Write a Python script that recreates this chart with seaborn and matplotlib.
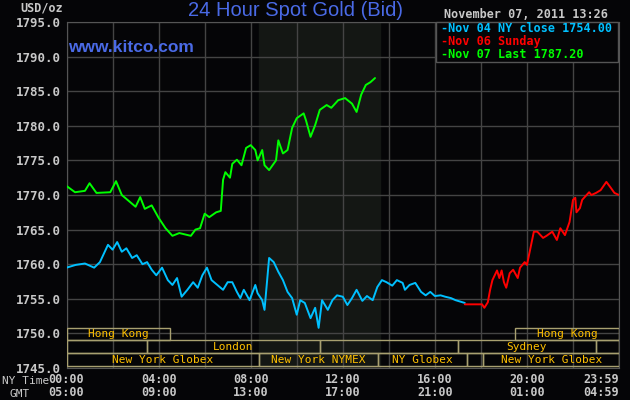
import matplotlib
matplotlib.use("Agg")
import matplotlib.pyplot as plt
import seaborn as sns
import pandas as pd
from matplotlib.patches import Rectangle

# ---- data (hours since 00:00 NY time, USD/oz) ----
nov04_hours = [0, 0.4, 0.8, 1.2, 1.45, 1.8, 2.0, 2.2, 2.4, 2.6, 2.85, 3.05, 3.3, 3.5, 3.7, 3.9,
               4.15, 4.4, 4.6, 4.8, 5.0, 5.25, 5.5, 5.7, 5.9, 6.1, 6.3, 6.55, 6.8, 7.0, 7.2, 7.4,
               7.55, 7.7, 7.95, 8.2, 8.3, 8.5, 8.6, 8.8, 9.0, 9.2, 9.4, 9.6, 9.8, 10.0, 10.15,
               10.35, 10.6, 10.8, 10.95, 11.1, 11.35, 11.55, 11.75, 12.0, 12.2, 12.4, 12.6, 12.85,
               13.05, 13.3, 13.5, 13.7, 13.9, 14.15, 14.35, 14.6, 14.7, 14.9, 15.15, 15.4, 15.6,
               15.8, 16.0, 16.25, 16.45, 16.7, 16.9, 17.3]
nov04_price = [1759.5, 1759.9, 1760.1, 1759.5, 1760.3, 1762.8, 1762.1, 1763.2, 1761.8, 1762.3,
               1760.9, 1761.3, 1760.0, 1760.3, 1759.2, 1758.4, 1759.5, 1757.7, 1757.0, 1758.0,
               1755.3, 1756.3, 1757.4, 1756.6, 1758.4, 1759.5, 1757.7, 1757.0, 1756.3, 1757.4,
               1757.4, 1756.0, 1755.1, 1756.3, 1754.8, 1757.0, 1755.8, 1754.8, 1753.4, 1760.9,
               1760.3, 1758.9, 1757.7, 1756.0, 1755.1, 1752.7, 1754.8, 1754.4, 1752.2, 1753.7,
               1750.8, 1754.8, 1753.4, 1754.8, 1755.5, 1755.3, 1754.1, 1755.1, 1756.3, 1754.7,
               1755.4, 1754.8, 1756.7, 1757.7, 1757.4, 1756.9, 1757.7, 1757.3, 1756.3, 1757.0,
               1757.3, 1756.0, 1755.5, 1756.0, 1755.4, 1755.5, 1755.3, 1755.1, 1754.8, 1754.4]

nov06_hours = [17.3, 18.05, 18.15, 18.3, 18.4, 18.5, 18.6, 18.7, 18.8, 18.9, 19.0, 19.1, 19.25,
               19.4, 19.6, 19.7, 19.9, 20.0, 20.15, 20.3, 20.45, 20.7, 20.85, 21.1, 21.3, 21.45,
               21.65, 21.85, 22.0, 22.1, 22.15, 22.3, 22.4, 22.7, 22.8, 23.0, 23.2, 23.45, 23.65,
               23.8, 24.0]
nov06_price = [1754.2, 1754.2, 1753.7, 1754.5, 1756.3, 1757.7, 1758.4, 1759.1, 1758.0, 1759.1,
               1757.4, 1756.6, 1758.7, 1759.2, 1758.0, 1759.5, 1760.3, 1759.9, 1762.3, 1764.7,
               1764.7, 1763.8, 1764.1, 1764.7, 1763.5, 1765.2, 1764.2, 1766.1, 1769.3, 1769.6,
               1767.5, 1768.1, 1769.3, 1770.4, 1770.0, 1770.3, 1770.7, 1771.9, 1771.0, 1770.3,
               1770.0]

nov07_hours = [0, 0.37, 0.8, 1.0, 1.3, 1.9, 2.15, 2.4, 3.0, 3.2, 3.4, 3.7, 4.0, 4.3, 4.6, 4.9,
               5.4, 5.6, 5.8, 6.0, 6.2, 6.5, 6.7, 6.8, 6.9, 7.1, 7.2, 7.4, 7.6, 7.8, 8.0, 8.2,
               8.3, 8.5, 8.6, 8.8, 9.1, 9.2, 9.4, 9.6, 9.8, 10.0, 10.3, 10.4, 10.6, 10.8, 11.0,
               11.3, 11.5, 11.8, 12.1, 12.4, 12.6, 12.8, 13.0, 13.2, 13.4]
nov07_price = [1771.3, 1770.4, 1770.6, 1771.7, 1770.3, 1770.4, 1772.0, 1770.0, 1768.3, 1769.7,
               1768.0, 1768.5, 1766.7, 1765.2, 1764.1, 1764.5, 1764.1, 1765.0, 1765.2, 1767.3,
               1766.8, 1767.5, 1767.7, 1772.2, 1773.3, 1772.5, 1774.5, 1775.1, 1774.3, 1776.8,
               1777.2, 1776.5, 1775.0, 1776.5, 1774.3, 1773.6, 1775.0, 1777.9, 1776.0, 1776.5,
               1779.7, 1781.1, 1781.8, 1780.8, 1778.4, 1780.1, 1782.3, 1783.0, 1782.6, 1783.7,
               1784.0, 1783.2, 1782.0, 1784.5, 1785.9, 1786.3, 1786.9]

legend_labels = ["Nov 04 NY close 1754.00", "Nov 06 Sunday", "Nov 07 Last 1787.20"]
series_colors = ["#00c0ff", "#ff0000", "#00ff00"]

# market sessions: (row, start hour, end hour, label)
sessions = [
    (0, 0, 4.5, "Hong Kong"), (0, 19.5, 24, "Hong Kong"),
    (1, 0, 3.5, ""), (1, 3.5, 11.0, "London"), (1, 11.0, 17.0, ""),
    (1, 17.0, 23.0, "Sydney"), (1, 23.0, 24, ""),
    (2, 0, 8.35, "New York Globex"), (2, 8.35, 13.55, "New York NYMEX"),
    (2, 13.55, 17.4, "NY Globex"), (2, 17.4, 18.1, ""), (2, 18.1, 24, "New York Globex"),
]
tick_hours = [0, 4, 8, 12, 16, 20, 23.98]
ny_labels = ["00:00", "04:00", "08:00", "12:00", "16:00", "20:00", "23:59"]
gmt_labels = ["05:00", "09:00", "13:00", "17:00", "21:00", "01:00", "04:59"]

bg = "#050507"
mono = "DejaVu Sans Mono"
tick_col = "#c8c8c8"

sns.set_style("dark")
fig = plt.figure(figsize=(6.3, 4.0), dpi=100, facecolor=bg)
ax = fig.add_axes([0.1056, 0.08, 0.877, 0.865], facecolor=bg)

ax.axvspan(8.35, 13.6, color="#141714", zorder=0)

frames = [
    pd.DataFrame({"h": nov04_hours, "p": nov04_price}),
    pd.DataFrame({"h": nov06_hours, "p": nov06_price}),
    pd.DataFrame({"h": nov07_hours, "p": nov07_price}),
]
for df, c in zip(frames, series_colors):
    sns.lineplot(data=df, x="h", y="p", ax=ax, color=c, linewidth=1.4, zorder=3)

ax.set_xlim(0, 24)
ax.set_ylim(1745, 1795)
ax.set_xticks(range(0, 25, 2))
ax.set_yticks(range(1745, 1796, 5))
ax.grid(True, color="#444444", linewidth=1.0, zorder=1)
ax.set_axisbelow(True)
for s in ax.spines.values():
    s.set_color("#555555")
ax.set_xticklabels([])
ax.set_yticklabels([f"{v:.1f}" for v in range(1745, 1796, 5)], family=mono,
                   fontweight="bold", color=tick_col, fontsize=9)
ax.tick_params(length=0, pad=4)
ax.set_xlabel("")
ax.set_ylabel("")

# session boxes
row_bounds = [(1749.0, 1750.8), (1747.2, 1749.0), (1745.3, 1747.1)]
for row, h0, h1, lab in sessions:
    y0, y1 = row_bounds[row]
    ax.add_patch(Rectangle((h0, y0), h1 - h0, y1 - y0, fill=False, edgecolor="#a8a070",
                           linewidth=1.0, zorder=4))
    if lab:
        ax.text((h0 + h1) / 2, (y0 + y1) / 2, lab, ha="center", va="center",
                family=mono, fontsize=8, color="#ffc000", zorder=5)

# x labels (NY / GMT)
for h, a, b in zip(tick_hours, ny_labels, gmt_labels):
    ha = "right" if h > 23 else "center"
    xx = 24 if h > 23 else h
    ax.text(xx, 1743.3, a, ha=ha, va="center", family=mono, fontweight="bold",
            fontsize=8.5, color=tick_col)
    ax.text(xx, 1741.5, b, ha=ha, va="center", family=mono, fontweight="bold",
            fontsize=8.5, color=tick_col)
fig.text(2 / 630, 1 - 381 / 400, "NY Time", family=mono, fontsize=8, color=tick_col, va="center")
fig.text(10 / 630, 1 - 394 / 400, "GMT", family=mono, fontsize=8, color=tick_col, va="center")

# titles
fig.text(20 / 630, 1 - 8 / 400, "USD/oz", family=mono, fontweight="bold", fontsize=8.5,
         color=tick_col, va="center")
fig.text(296 / 630, 1 - 11 / 400, "24 Hour Spot Gold (Bid)", fontsize=14.5, color="#4a6ae6",
         ha="center", va="center", family="Liberation Sans")
fig.text(68 / 630, 1 - 48 / 400, "www.kitco.com", fontsize=12.5, fontweight="bold",
         color="#4a6ae6", va="center", family="Liberation Sans")
fig.text(608 / 630, 1 - 15 / 400, "November 07, 2011 13:26", family=mono, fontweight="bold",
         fontsize=8.5, color=tick_col, ha="right", va="center")

# legend box
fig.patches.append(Rectangle((436 / 630, 1 - 62 / 400), 182 / 630, 40 / 400, fill=True,
                             facecolor=bg, edgecolor="#555555", linewidth=1.0,
                             transform=fig.transFigure, zorder=6, figure=fig))
for i, (lab, c) in enumerate(zip(legend_labels, series_colors)):
    fig.text(441 / 630, 1 - (29 + i * 13) / 400, "-" + lab, family=mono, fontweight="bold",
             fontsize=8.5, color=c, va="center", zorder=7)

fig.savefig("out.png", dpi=100, facecolor=bg)
